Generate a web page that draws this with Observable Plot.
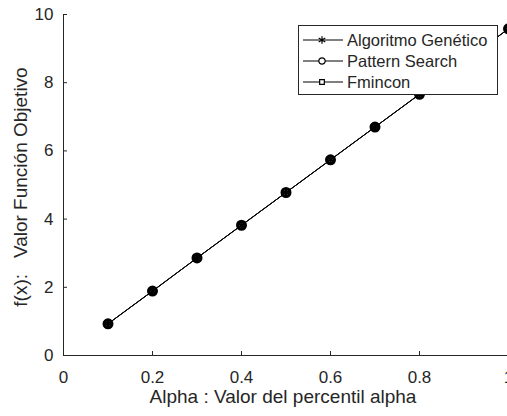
<!DOCTYPE html>
<html>
<head>
<meta charset="utf-8">
<script src="https://cdn.jsdelivr.net/npm/d3@7"></script>
<script src="https://cdn.jsdelivr.net/npm/@observablehq/plot@0.6"></script>
<style>
  html, body { margin: 0; padding: 0; background: #fff; }
  svg { font-family: "Liberation Sans", Arial, sans-serif; }
</style>
</head>
<body>
<div id="chart"></div>
<script>
const alpha = [0.1, 0.2, 0.3, 0.4, 0.5, 0.6, 0.7, 0.8, 0.9, 1.0];
const algoritmoGenetico = [0.93, 1.89, 2.86, 3.82, 4.78, 5.74, 6.70, 7.66, 8.62, 9.58];
const patternSearch     = [0.93, 1.89, 2.86, 3.82, 4.78, 5.74, 6.70, 7.66, 8.62, 9.58];
const fmincon           = [0.93, 1.89, 2.86, 3.82, 4.78, 5.74, 6.70, 7.66, 8.62, 9.58];
const seriesNames = ["Algoritmo Genético", "Pattern Search", "Fmincon"];
const seriesSymbols = ["asterisk", "circle", "square"];
const xTicks = [0, 0.2, 0.4, 0.6, 0.8, 1];
const yTicks = [0, 2, 4, 6, 8, 10];
const xLabel = "Alpha : Valor del percentil alpha";
const yLabel = "f(x):   Valor Función Objetivo";

const seriesValues = [algoritmoGenetico, patternSearch, fmincon];
const data = seriesValues.flatMap((vals, s) =>
  alpha.map((a, i) => ({x: a, y: vals[i], s: seriesNames[s], sym: seriesSymbols[s]})));

const ink = "#262626";
const W = 507, H = 416;
const markR = {asterisk: 4.5, circle: 4.2, square: 3.2};
const markW = {asterisk: 2, circle: 2.6, square: 1.6};

const chart = Plot.plot({
  width: W, height: H,
  marginLeft: 63, marginTop: 14, marginBottom: 61, marginRight: 0,
  style: {fontFamily: '"Liberation Sans", Arial, sans-serif', fontSize: "17px", color: ink, background: "#fff"},
  x: {domain: [0, 1], range: [63, 508]},
  y: {domain: [0, 10], range: [355, 14]},
  marks: [
    Plot.axisX({ticks: xTicks, tickFormat: d => String(d), tickSize: 4, dy: -4, tickPadding: 15, stroke: ink, fill: ink, fontSize: 17, label: null}),
    Plot.axisY({ticks: yTicks, tickFormat: d => String(d), tickSize: 4, dx: 4, tickPadding: 10, stroke: ink, fill: ink, fontSize: 17, label: null}),
    Plot.ruleY([0], {stroke: ink, strokeWidth: 1}),
    Plot.ruleX([0], {stroke: ink, strokeWidth: 1}),
    ...seriesNames.map((name) =>
      Plot.line(data.filter(d => d.s === name), {x: "x", y: "y", stroke: "#000", strokeWidth: 1})),
    ...seriesNames.map((name, s) =>
      Plot.dot(data.filter(d => d.s === name), {x: "x", y: "y", symbol: "sym",
        r: markR[seriesSymbols[s]], stroke: "#000", strokeWidth: markW[seriesSymbols[s]], fill: "none"}))
  ]
});

const svg = d3.select(chart);
// axis titles
svg.append("text")
  .attr("x", 283).attr("y", 403)
  .attr("text-anchor", "middle")
  .attr("fill", ink).style("font-size", "19px")
  .text(xLabel);
svg.append("text")
  .attr("transform", "translate(27,187) rotate(-90)")
  .attr("text-anchor", "middle")
  .attr("fill", ink).style("font-size", "19px")
  .attr("xml:space", "preserve")
  .style("white-space", "pre")
  .text(yLabel);

// legend
const lg = svg.append("g").attr("text-anchor", "start");
lg.append("rect").attr("x", 298.5).attr("y", 25.5).attr("width", 199).attr("height", 69)
  .attr("fill", "#fff").attr("stroke", ink).attr("stroke-width", 1);
const rowsY = [40, 61, 82];
seriesNames.forEach((name, i) => {
  const y = rowsY[i];
  lg.append("line").attr("x1", 303).attr("x2", 343).attr("y1", y).attr("y2", y)
    .attr("stroke", "#000").attr("stroke-width", 1);
  const t = {asterisk: d3.symbolAsterisk, circle: d3.symbolCircle, square: d3.symbolSquare}[seriesSymbols[i]];
  const size = {asterisk: 40, circle: 32, square: 22}[seriesSymbols[i]];
  lg.append("path").attr("d", d3.symbol(t, size)())
    .attr("transform", `translate(322,${y})`)
    .attr("fill", i === 0 ? "none" : "#fff").attr("stroke", "#000").attr("stroke-width", 1.2);
  lg.append("text").attr("x", 347).attr("y", y).attr("dy", "0.35em")
    .attr("text-anchor", "start")
    .attr("fill", ink).style("font-size", "16.5px").text(name);
});

document.getElementById("chart").appendChild(chart);
</script>
</body>
</html>
